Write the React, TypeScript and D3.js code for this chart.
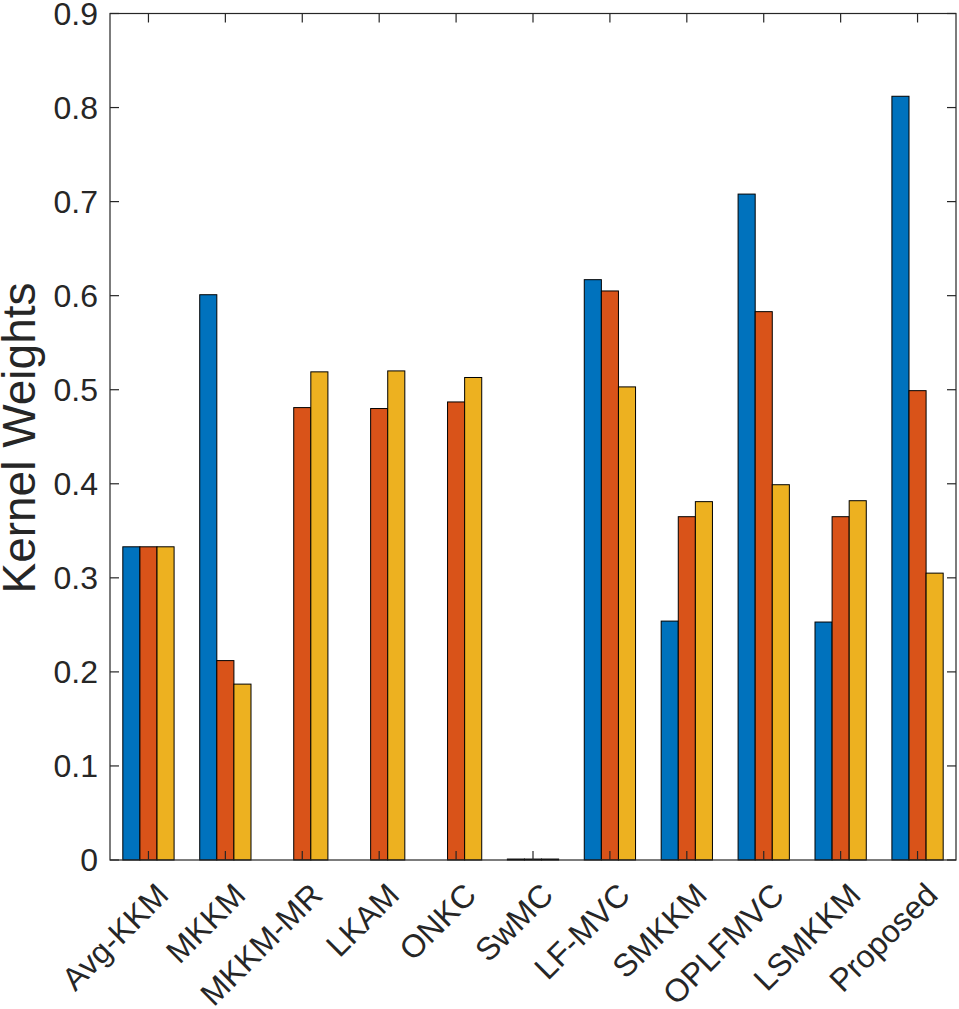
import React from "react";
import * as d3 from "d3";

const categories = ["Avg-KKM", "MKKM", "MKKM-MR", "LKAM", "ONKC", "SwMC", "LF-MVC", "SMKKM", "OPLFMVC", "LSMKKM", "Proposed"];
const kernel1 = [0.333, 0.601, 0, 0, 0, 0.001, 0.617, 0.254, 0.708, 0.253, 0.812];
const kernel2 = [0.333, 0.212, 0.481, 0.480, 0.487, 0.001, 0.605, 0.365, 0.583, 0.365, 0.499];
const kernel3 = [0.333, 0.187, 0.519, 0.520, 0.513, 0.001, 0.503, 0.381, 0.399, 0.382, 0.305];
const yTicks = [0, 0.1, 0.2, 0.3, 0.4, 0.5, 0.6, 0.7, 0.8, 0.9];
const seriesColors = ["#0072BD", "#D95319", "#EDB120"];
const yLabel = "Kernel Weights";

const W = 959;
const H = 1009;
const left = 110;
const right = 956;
const top = 13.5;
const bottom = 860;
const axisColor = "#262626";
const font = "'Liberation Sans', Arial, Helvetica, sans-serif";

export default function App() {
  const series = [kernel1, kernel2, kernel3];
  const x = d3.scaleLinear().domain([0.5, categories.length + 0.5]).range([left, right]);
  const y = d3.scaleLinear().domain([0, 0.9]).range([bottom, top]);
  const groupWidth = Math.min(0.8, 3 / (3 + 1.5));
  const inner = d3.scaleBand<number>().domain([0, 1, 2]).range([-groupWidth / 2, groupWidth / 2]).padding(0);
  const tickLen = 9;

  return (
    <svg width={W} height={H} style={{ position: "absolute", left: 0, top: 0, display: "block", background: "#fff" }}>
      <rect x={0} y={0} width={W} height={H} fill="#fff" />
      {series.map((vals, j) =>
        vals.map((v, i) => {
          if (v <= 0) return null;
          const x0 = x(i + 1 + (inner(j) as number));
          const x1 = x(i + 1 + (inner(j) as number) + inner.bandwidth());
          return (
            <rect
              key={`b${j}-${i}`}
              x={x0}
              y={y(v)}
              width={x1 - x0}
              height={y(0) - y(v)}
              fill={seriesColors[j]}
              stroke="#000"
              strokeWidth={1}
            />
          );
        })
      )}
      <rect x={left} y={top} width={right - left} height={bottom - top} fill="none" stroke={axisColor} strokeWidth={1.2} />
      {yTicks.map((t) => (
        <g key={`yt${t}`}>
          <line x1={left} x2={left + tickLen} y1={y(t)} y2={y(t)} stroke={axisColor} strokeWidth={1.2} />
          <line x1={right} x2={right - tickLen} y1={y(t)} y2={y(t)} stroke={axisColor} strokeWidth={1.2} />
          <text x={left - 12} y={y(t)} textAnchor="end" dominantBaseline="central" fontFamily={font} fontSize={32} fill={axisColor}>
            {String(t)}
          </text>
        </g>
      ))}
      {categories.map((c, i) => {
        const cx = x(i + 1);
        return (
          <g key={`xt${c}`}>
            <line x1={cx} x2={cx} y1={bottom} y2={bottom - tickLen} stroke={axisColor} strokeWidth={1.2} />
            <line x1={cx} x2={cx} y1={top} y2={top + tickLen} stroke={axisColor} strokeWidth={1.2} />
            <text
              transform={`translate(${cx + 22},${bottom + 37}) rotate(-45)`}
              textAnchor="end"
              fontFamily={font}
              fontSize={32}
              fill={axisColor}
            >
              {c}
            </text>
          </g>
        );
      })}
      <text
        transform={`translate(35,438) rotate(-90)`}
        textAnchor="middle"
        fontFamily={font}
        fontSize={46}
        fill={axisColor}
      >
        {yLabel}
      </text>
    </svg>
  );
}
